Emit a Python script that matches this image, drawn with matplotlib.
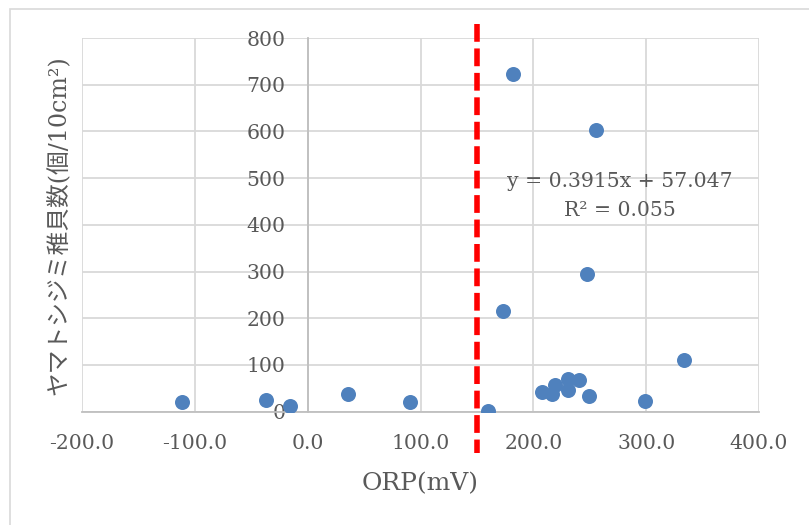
import matplotlib
matplotlib.use("Agg")
import matplotlib.pyplot as plt
from matplotlib.patches import Rectangle

# Data (ORP in mV, juvenile clam count per 10cm2)
orp = [-111.4, -37.0, -15.7, 35.7, 90.7, 159.8, 173.0, 182.0, 247.6, 255.6,
       333.8, 299.0, 207.4, 216.3, 219.2, 230.5, 231.0, 240.8, 249.6]
count = [20.7, 25.0, 12.0, 38.0, 21.0, 0.5, 215.0, 722.0, 294.0, 602.0,
         110.0, 23.0, 43.0, 38.0, 57.0, 71.0, 46.0, 68.0, 34.0]
x_ticks = [-200, -100, 0, 100, 200, 300, 400]
y_ticks = [0, 100, 200, 300, 400, 500, 600, 700, 800]
threshold = [150]
eq_line1 = "y = 0.3915x + 57.047"
eq_line2 = "R² = 0.055"
x_title = "ORP(mV)"
y_title = "ヤマトシジミ稚貝数(個/10cm²)"

W, H = 809, 525
fig = plt.figure(figsize=(W / 100, H / 100), dpi=100)
fig.patch.set_facecolor("white")
plt.rcParams['font.family'] = ['DejaVu Serif', 'Noto Sans CJK JP']

# chart-area border
fig.patches.append(Rectangle((10 / W, -0.1), 1.2, 1 - 8.7 / H + 0.1,
                             transform=fig.transFigure, fill=False,
                             edgecolor="#d9d9d9", linewidth=1.2))

left, right, top, bottom = 82, 759, 38, 411.7
ax = fig.add_axes([left / W, 1 - bottom / H, (right - left) / W, (bottom - top) / H])
ax.set_xlim(-200, 400)
ax.set_ylim(0, 800)
ax.set_xticks(x_ticks)
ax.set_yticks(y_ticks)
ax.set_xticklabels([f"{v:.1f}" for v in x_ticks])
ax.set_yticklabels([str(v) for v in y_ticks])
ax.grid(True, color="#d9d9d9", linewidth=1.3, zorder=0)
ax.set_axisbelow(True)

for s in ["top", "right"]:
    ax.spines[s].set_visible(False)
ax.spines["left"].set_position(("data", 0))
ax.spines["left"].set_color("#bfbfbf")
ax.spines["left"].set_linewidth(1.3)
ax.spines["bottom"].set_color("#bfbfbf")
ax.spines["bottom"].set_linewidth(1.3)

txt_col = "#595959"
ax.tick_params(axis="y", length=0, pad=16, labelsize=14.7, labelcolor=txt_col)
ax.tick_params(axis="x", length=0, pad=16, labelsize=14.7, labelcolor=txt_col)

ax.scatter(orp, count, s=10.8 ** 2, color="#4F81BD", zorder=3, linewidths=0)

for t in threshold:
    ax.plot([t, t], [831, -88], color="#ff0000", linewidth=4.0,
            dashes=(3.2, 1.2), dash_capstyle="butt", clip_on=False, zorder=4)

ax.text(277, 492, eq_line1, ha="center", va="center", fontsize=14.7, color=txt_col)
ax.text(277, 431, eq_line2, ha="center", va="center", fontsize=14.7, color=txt_col)

ax.set_xlabel(x_title, fontsize=18, color=txt_col, labelpad=14)
fig.text(59 / W, 1 - 225 / H, y_title, rotation=90, ha="center", va="center",
         fontsize=17.1, color=txt_col)

fig.savefig("out.png", dpi=100)
